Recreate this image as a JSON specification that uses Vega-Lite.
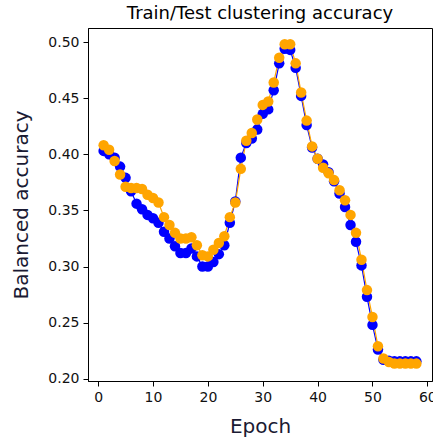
{
  "$schema": "https://vega.github.io/schema/vega-lite/v6.json",
  "width": 344,
  "height": 353,
  "autosize": "none",
  "padding": {"left": 88, "top": 28, "right": 1, "bottom": 60},
  "background": "white",
  "config": {
    "font": "DejaVu Sans",
    "view": {"stroke": "black", "strokeWidth": 1},
    "title": {"fontSize": 18, "fontWeight": "normal", "font": "DejaVu Sans", "color": "black", "offset": 5},
    "axis": {"labelFont": "DejaVu Sans", "titleFont": "DejaVu Sans", "labelColor": "#111111", "titleColor": "#1a1a33", "domainColor": "black", "tickColor": "black", "grid": false, "labelFontSize": 14, "titleFontSize": 20, "titleFontWeight": "normal", "tickSize": 5, "labelPadding": 4}
  },
  "title": "Train/Test clustering accuracy",
  "data": {
    "values": [
      {"epoch": 1, "series": "Train", "acc": 0.403},
      {"epoch": 2, "series": "Train", "acc": 0.400},
      {"epoch": 3, "series": "Train", "acc": 0.397},
      {"epoch": 4, "series": "Train", "acc": 0.389},
      {"epoch": 5, "series": "Train", "acc": 0.379},
      {"epoch": 6, "series": "Train", "acc": 0.367},
      {"epoch": 7, "series": "Train", "acc": 0.356},
      {"epoch": 8, "series": "Train", "acc": 0.351},
      {"epoch": 9, "series": "Train", "acc": 0.346},
      {"epoch": 10, "series": "Train", "acc": 0.343},
      {"epoch": 11, "series": "Train", "acc": 0.339},
      {"epoch": 12, "series": "Train", "acc": 0.331},
      {"epoch": 13, "series": "Train", "acc": 0.325},
      {"epoch": 14, "series": "Train", "acc": 0.318},
      {"epoch": 15, "series": "Train", "acc": 0.312},
      {"epoch": 16, "series": "Train", "acc": 0.312},
      {"epoch": 17, "series": "Train", "acc": 0.316},
      {"epoch": 18, "series": "Train", "acc": 0.309},
      {"epoch": 19, "series": "Train", "acc": 0.300},
      {"epoch": 20, "series": "Train", "acc": 0.300},
      {"epoch": 21, "series": "Train", "acc": 0.304},
      {"epoch": 22, "series": "Train", "acc": 0.311},
      {"epoch": 23, "series": "Train", "acc": 0.319},
      {"epoch": 24, "series": "Train", "acc": 0.339},
      {"epoch": 25, "series": "Train", "acc": 0.358},
      {"epoch": 26, "series": "Train", "acc": 0.397},
      {"epoch": 27, "series": "Train", "acc": 0.410},
      {"epoch": 28, "series": "Train", "acc": 0.414},
      {"epoch": 29, "series": "Train", "acc": 0.422},
      {"epoch": 30, "series": "Train", "acc": 0.436},
      {"epoch": 31, "series": "Train", "acc": 0.440},
      {"epoch": 32, "series": "Train", "acc": 0.457},
      {"epoch": 33, "series": "Train", "acc": 0.481},
      {"epoch": 34, "series": "Train", "acc": 0.494},
      {"epoch": 35, "series": "Train", "acc": 0.493},
      {"epoch": 36, "series": "Train", "acc": 0.477},
      {"epoch": 37, "series": "Train", "acc": 0.452},
      {"epoch": 38, "series": "Train", "acc": 0.426},
      {"epoch": 39, "series": "Train", "acc": 0.406},
      {"epoch": 40, "series": "Train", "acc": 0.396},
      {"epoch": 41, "series": "Train", "acc": 0.391},
      {"epoch": 42, "series": "Train", "acc": 0.384},
      {"epoch": 43, "series": "Train", "acc": 0.376},
      {"epoch": 44, "series": "Train", "acc": 0.365},
      {"epoch": 45, "series": "Train", "acc": 0.353},
      {"epoch": 46, "series": "Train", "acc": 0.337},
      {"epoch": 47, "series": "Train", "acc": 0.322},
      {"epoch": 48, "series": "Train", "acc": 0.301},
      {"epoch": 49, "series": "Train", "acc": 0.273},
      {"epoch": 50, "series": "Train", "acc": 0.248},
      {"epoch": 51, "series": "Train", "acc": 0.226},
      {"epoch": 52, "series": "Train", "acc": 0.217},
      {"epoch": 53, "series": "Train", "acc": 0.216},
      {"epoch": 54, "series": "Train", "acc": 0.2155},
      {"epoch": 55, "series": "Train", "acc": 0.2155},
      {"epoch": 56, "series": "Train", "acc": 0.2155},
      {"epoch": 57, "series": "Train", "acc": 0.2155},
      {"epoch": 58, "series": "Train", "acc": 0.2155},
      {"epoch": 1, "series": "Test", "acc": 0.408},
      {"epoch": 2, "series": "Test", "acc": 0.404},
      {"epoch": 3, "series": "Test", "acc": 0.394},
      {"epoch": 4, "series": "Test", "acc": 0.382},
      {"epoch": 5, "series": "Test", "acc": 0.371},
      {"epoch": 6, "series": "Test", "acc": 0.370},
      {"epoch": 7, "series": "Test", "acc": 0.370},
      {"epoch": 8, "series": "Test", "acc": 0.369},
      {"epoch": 9, "series": "Test", "acc": 0.364},
      {"epoch": 10, "series": "Test", "acc": 0.361},
      {"epoch": 11, "series": "Test", "acc": 0.357},
      {"epoch": 12, "series": "Test", "acc": 0.344},
      {"epoch": 13, "series": "Test", "acc": 0.337},
      {"epoch": 14, "series": "Test", "acc": 0.330},
      {"epoch": 15, "series": "Test", "acc": 0.325},
      {"epoch": 16, "series": "Test", "acc": 0.325},
      {"epoch": 17, "series": "Test", "acc": 0.326},
      {"epoch": 18, "series": "Test", "acc": 0.319},
      {"epoch": 19, "series": "Test", "acc": 0.310},
      {"epoch": 20, "series": "Test", "acc": 0.309},
      {"epoch": 21, "series": "Test", "acc": 0.315},
      {"epoch": 22, "series": "Test", "acc": 0.321},
      {"epoch": 23, "series": "Test", "acc": 0.327},
      {"epoch": 24, "series": "Test", "acc": 0.344},
      {"epoch": 25, "series": "Test", "acc": 0.357},
      {"epoch": 26, "series": "Test", "acc": 0.387},
      {"epoch": 27, "series": "Test", "acc": 0.412},
      {"epoch": 28, "series": "Test", "acc": 0.419},
      {"epoch": 29, "series": "Test", "acc": 0.431},
      {"epoch": 30, "series": "Test", "acc": 0.444},
      {"epoch": 31, "series": "Test", "acc": 0.447},
      {"epoch": 32, "series": "Test", "acc": 0.464},
      {"epoch": 33, "series": "Test", "acc": 0.486},
      {"epoch": 34, "series": "Test", "acc": 0.498},
      {"epoch": 35, "series": "Test", "acc": 0.498},
      {"epoch": 36, "series": "Test", "acc": 0.481},
      {"epoch": 37, "series": "Test", "acc": 0.455},
      {"epoch": 38, "series": "Test", "acc": 0.430},
      {"epoch": 39, "series": "Test", "acc": 0.407},
      {"epoch": 40, "series": "Test", "acc": 0.396},
      {"epoch": 41, "series": "Test", "acc": 0.388},
      {"epoch": 42, "series": "Test", "acc": 0.383},
      {"epoch": 43, "series": "Test", "acc": 0.377},
      {"epoch": 44, "series": "Test", "acc": 0.368},
      {"epoch": 45, "series": "Test", "acc": 0.359},
      {"epoch": 46, "series": "Test", "acc": 0.346},
      {"epoch": 47, "series": "Test", "acc": 0.330},
      {"epoch": 48, "series": "Test", "acc": 0.306},
      {"epoch": 49, "series": "Test", "acc": 0.279},
      {"epoch": 50, "series": "Test", "acc": 0.255},
      {"epoch": 51, "series": "Test", "acc": 0.229},
      {"epoch": 52, "series": "Test", "acc": 0.218},
      {"epoch": 53, "series": "Test", "acc": 0.215},
      {"epoch": 54, "series": "Test", "acc": 0.2135},
      {"epoch": 55, "series": "Test", "acc": 0.2135},
      {"epoch": 56, "series": "Test", "acc": 0.2135},
      {"epoch": 57, "series": "Test", "acc": 0.2135},
      {"epoch": 58, "series": "Test", "acc": 0.2135}
    ]
  },
  "encoding": {
    "x": {"field": "epoch", "type": "quantitative", "scale": {"domain": [-1.85, 60.85], "nice": false, "zero": false},
      "axis": {"values": [0, 10, 20, 30, 40, 50, 60], "title": "Epoch", "titlePadding": 12}},
    "y": {"field": "acc", "type": "quantitative", "scale": {"domain": [0.198, 0.5125], "nice": false, "zero": false},
      "axis": {"values": [0.2, 0.25, 0.3, 0.35, 0.4, 0.45, 0.5], "format": ".2f", "title": "Balanced accuracy", "titlePadding": 16}},
    "color": {"field": "series", "type": "nominal", "scale": {"domain": ["Train", "Test"], "range": ["blue", "orange"]}, "legend": null}
  },
  "layer": [
    {"mark": {"type": "line", "strokeWidth": 1.2}, "encoding": {"order": {"field": "epoch", "type": "quantitative"}}},
    {"mark": {"type": "point", "filled": true, "opacity": 1, "size": 110, "shape": "circle"}}
  ]
}
